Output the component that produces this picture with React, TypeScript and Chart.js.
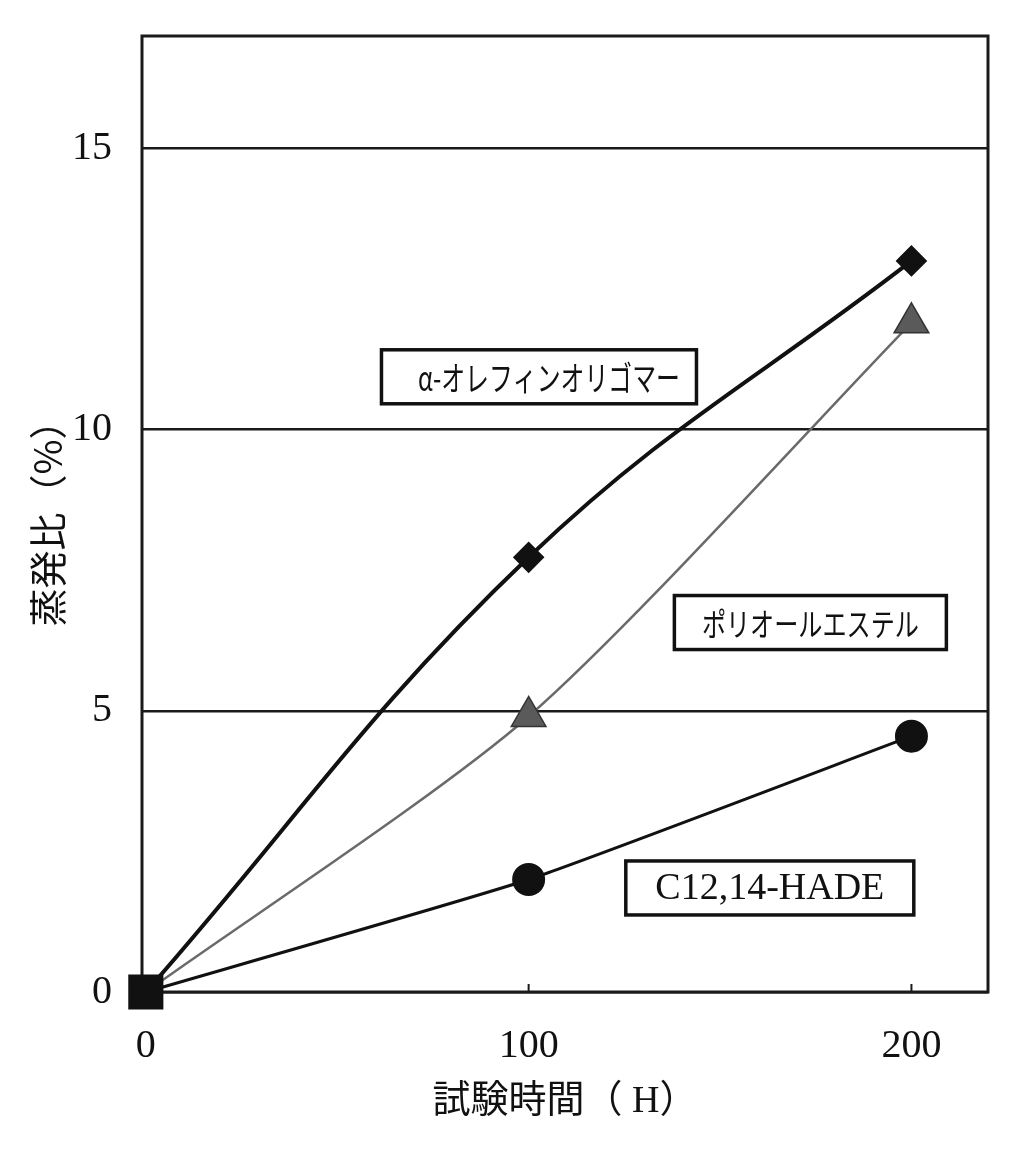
import React, { useEffect, useRef } from 'react';
import { Chart, registerables } from 'chart.js';

Chart.register(...registerables);

// ---- data ----
const hours = [0, 100, 200];
const alphaOlefin = [0, 7.73, 13.0];
const polyolEster = [0, 4.9, 11.9];
const hade = [0, 2.0, 4.55];
const xTicks = [0, 100, 200];
const yTicks = [0, 5, 10, 15];
const seriesNames = ['α-オレフィンオリゴマー', 'ポリオールエステル', 'C12,14-HADE'];
const labelAtHours = [102.7, 173.6, 163];
const labelAtValues = [10.94, 6.57, 1.85];
const xTitle = '試験時間（ H）';
const yTitle = '蒸発比（%）';

// ---- label box styling ----
const boxWidths = [315, 272, 288];
const boxHeight = 54;
const textMaxWidths = [262, 217, 236];
const boxFonts = [
  '34px "Noto Sans CJK JP"',
  '32px "Noto Sans CJK JP"',
  '38px "Liberation Serif"',
];

const toPoints = (ys: number[]) => hours.map((h, i) => ({ x: h, y: ys[i] }));

const framePlugin = {
  id: 'frameAndLabels',
  beforeDatasetsDraw(chart: any) {
    const { ctx, chartArea: a, scales } = chart;
    ctx.save();
    ctx.strokeStyle = '#1a1a1a';
    ctx.lineWidth = 3;
    ctx.strokeRect(a.left, a.top, a.right - a.left, a.bottom - a.top);
    ctx.lineWidth = 2;
    xTicks.forEach((v) => {
      const px = scales.x.getPixelForValue(v);
      ctx.beginPath();
      ctx.moveTo(px, a.bottom);
      ctx.lineTo(px, a.bottom - 8);
      ctx.stroke();
    });
    ctx.restore();
  },
  afterDatasetsDraw(chart: any) {
    const { ctx, scales } = chart;
    ctx.save();
    seriesNames.forEach((name, i) => {
      const cx = scales.x.getPixelForValue(labelAtHours[i]);
      const cy = scales.y.getPixelForValue(labelAtValues[i]);
      const w = boxWidths[i];
      const h = boxHeight;
      ctx.fillStyle = '#ffffff';
      ctx.fillRect(cx - w / 2, cy - h / 2, w, h);
      ctx.strokeStyle = '#111';
      ctx.lineWidth = 3.5;
      ctx.strokeRect(cx - w / 2, cy - h / 2, w, h);
      ctx.fillStyle = '#111';
      ctx.font = boxFonts[i];
      ctx.textAlign = 'center';
      ctx.textBaseline = 'middle';
      ctx.fillText(name, cx + (i === 0 ? 10 : 0), cy + 1, textMaxWidths[i]);
    });
    ctx.restore();
  },
};

export default function App() {
  const canvasRef = useRef<HTMLCanvasElement | null>(null);

  useEffect(() => {
    if (!canvasRef.current) return;
    const chart = new Chart(canvasRef.current, {
      type: 'line',
      data: {
        datasets: [
          {
            label: seriesNames[0],
            data: toPoints(alphaOlefin),
            borderColor: '#111',
            borderWidth: 4,
            backgroundColor: '#111',
            pointBackgroundColor: '#111',
            pointBorderColor: '#111',
            pointStyle: ['rect', 'rectRot', 'rectRot'],
            pointRadius: [22, 13, 13],
            tension: 0.4,
            clip: false,
          },
          {
            label: seriesNames[1],
            data: toPoints(polyolEster),
            borderColor: '#6a6a6a',
            borderWidth: 2.5,
            backgroundColor: '#5a5a5a',
            pointBackgroundColor: '#5a5a5a',
            pointBorderColor: '#333',
            pointBorderWidth: 1.5,
            pointStyle: 'triangle',
            pointRadius: [0, 20, 20],
            tension: 0.25,
            clip: false,
          },
          {
            label: seriesNames[2],
            data: toPoints(hade),
            borderColor: '#111',
            borderWidth: 3,
            backgroundColor: '#111',
            pointBackgroundColor: '#111',
            pointBorderColor: '#111',
            pointStyle: 'circle',
            pointRadius: [0, 15, 15],
            tension: 0.15,
            clip: false,
          },
        ],
      },
      options: {
        animation: false,
        responsive: true,
        maintainAspectRatio: false,
        layout: { padding: { left: 0, top: 36, right: 38, bottom: 0 } },
        plugins: {
          legend: { display: false },
          tooltip: { enabled: false },
        },
        scales: {
          x: {
            type: 'linear',
            min: -1,
            max: 220,
            afterBuildTicks: (scale: any) => {
              scale.ticks = xTicks.map((v) => ({ value: v }));
            },
            afterFit: (scale: any) => {
              scale.height = 175;
              scale.paddingLeft = 0;
              scale.paddingRight = 0;
            },
            grid: { display: false, drawTicks: false },
            border: { display: false },
            ticks: {
              padding: 30,
              color: '#111',
              font: { family: '"Liberation Serif"', size: 40 },
              maxRotation: 0,
            },
            title: {
              display: true,
              text: xTitle,
              color: '#111',
              font: { family: '"Liberation Serif", "Noto Sans CJK JP"', size: 38 },
              padding: { top: 0, bottom: 42 },
            },
          },
          y: {
            type: 'linear',
            min: 0,
            max: 17,
            afterBuildTicks: (scale: any) => {
              scale.ticks = yTicks.map((v) => ({ value: v }));
            },
            afterFit: (scale: any) => {
              scale.width = 142;
              scale.paddingTop = 0;
              scale.paddingBottom = 0;
            },
            grid: {
              drawTicks: false,
              color: '#1a1a1a',
              lineWidth: 2.5,
            },
            border: { display: false },
            ticks: {
              padding: 30,
              color: '#111',
              font: { family: '"Liberation Serif"', size: 40 },
            },
            title: {
              display: true,
              text: yTitle,
              color: '#111',
              font: { family: '"Noto Sans CJK JP"', size: 38 },
              padding: { top: 25, bottom: 0 },
            },
          },
        },
      },
      plugins: [framePlugin],
    } as any);
    return () => chart.destroy();
  }, []);

  return (
    <div style={{ position: 'fixed', left: 0, top: 0, width: 1026, height: 1167, background: '#fff' }}>
      <canvas ref={canvasRef} />
    </div>
  );
}
